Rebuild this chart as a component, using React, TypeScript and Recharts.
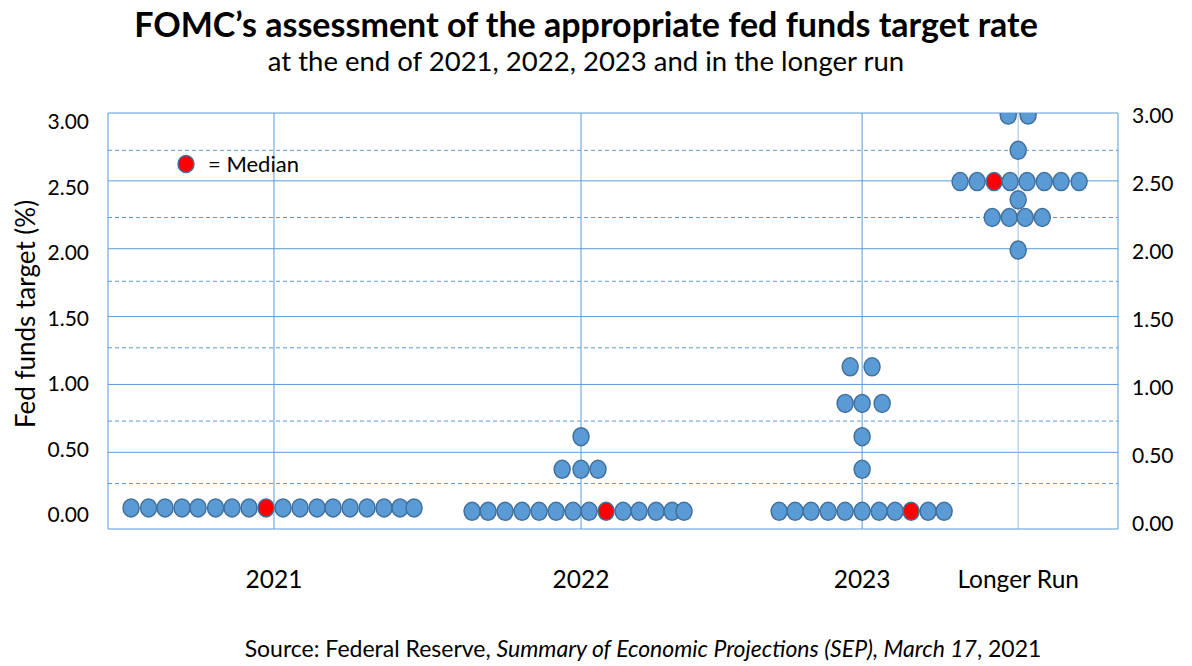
import { ScatterChart, Scatter, XAxis, YAxis, ReferenceLine } from 'recharts';

const categories = ['2021', '2022', '2023', 'Longer Run'];
const categoryCenters = [9.86, 28.1, 44.8, 54.07];

// rate levels drawn on the chart
const gridLevels = [0.5, 1, 1.5, 2, 2.5, 3];
const dashedLevels = [0.27, 0.73, 1.27, 1.76, 2.23, 2.725];
const tickLevels = [0, 0.5, 1, 1.5, 2, 2.5, 3];

// dots: each row is one rate, "at" = horizontal slot of each participant
const dots2021 = [
  { rate: 0.09, at: [1.37, 2.41, 3.39, 4.4, 5.35, 6.39, 7.37, 8.38, 10.4, 11.41, 12.42, 13.37, 14.38, 15.39, 16.4, 17.35, 18.18] },
];
const dots2022 = [
  { rate: 0.065, at: [21.63, 22.58, 23.59, 24.6, 25.61, 26.62, 27.63, 28.58, 30.6, 31.55, 32.56, 33.51, 34.22] },
  { rate: 0.375, at: [26.98, 28.1, 29.11] },
  { rate: 0.615, at: [28.1] },
];
const dots2023 = [
  { rate: 0.065, at: [39.87, 40.82, 41.77, 42.78, 43.79, 44.8, 45.81, 46.76, 48.72, 49.67] },
  { rate: 0.375, at: [44.8] },
  { rate: 0.615, at: [44.8] },
  { rate: 0.86, at: [43.79, 44.8, 45.99] },
  { rate: 1.13, at: [44.09, 45.39] },
];
const dotsLonger = [
  { rate: 2.985, at: [53.48, 54.66] },
  { rate: 2.725, at: [54.07] },
  { rate: 2.495, at: [50.62, 51.63, 53.59, 54.6, 55.62, 56.62, 57.69] },
  { rate: 2.36, at: [54.07] },
  { rate: 2.23, at: [52.53, 53.54, 54.49, 55.5] },
  { rate: 1.99, at: [54.07] },
];
const medians = [
  { rate: 0.09, at: 9.39 },
  { rate: 0.065, at: 29.59 },
  { rate: 0.065, at: 47.71 },
  { rate: 2.495, at: 52.64 },
];

const BLUE = '#5B9BD5';
const EDGE = '#41719C';
const FONT = 'Lato, "Open Sans", sans-serif';

function toPoints(rows: { rate: number; at: number[] }[]) {
  return rows.flatMap(r => r.at.map(x => ({ x, y: r.rate })));
}

const blueDots = [...toPoints(dots2021), ...toPoints(dots2022), ...toPoints(dots2023), ...toPoints(dotsLonger)];
const medianDots = medians.map(m => ({ x: m.at, y: m.rate }));

function Dot(fill: string) {
  return (p: any) => (
    <ellipse cx={p.cx} cy={p.cy} rx={8} ry={9} fill={fill} stroke={EDGE} strokeWidth={1.5} />
  );
}

function MedianKey() {
  return (
    <div style={{ position: 'absolute', left: 176, top: 153, display: 'flex', alignItems: 'center', fontSize: 22, lineHeight: '22px' }}>
      <svg width={20} height={20}>
        <ellipse cx={10} cy={10} rx={8} ry={8.5} fill="#FF0000" stroke={EDGE} strokeWidth={1.5} />
      </svg>
      <span style={{ marginLeft: 12 }}>= Median</span>
    </div>
  );
}

export default function App() {
  return (
    <div style={{ position: 'absolute', left: 0, top: 0, width: 1192, height: 666, background: '#fff', fontFamily: FONT, color: '#000' }}>
      <div style={{ position: 'absolute', left: 0, top: 6, width: 1172, textAlign: 'center', fontSize: 34, fontWeight: 700, lineHeight: '36px' }}>
        FOMC’s assessment of the appropriate fed funds target rate
      </div>
      <div style={{ position: 'absolute', left: 0, top: 45, width: 1172, textAlign: 'center', fontSize: 27.5, lineHeight: '32px' }}>
        at the end of 2021, 2022, 2023 and in the longer run
      </div>
      <div style={{ position: 'absolute', left: 25, top: 314, transform: 'translate(-50%, -50%) rotate(-90deg)', whiteSpace: 'nowrap', fontSize: 26 }}>
        Fed funds target (%)
      </div>

      <ScatterChart width={1192} height={666} margin={{ top: 113, right: 4, bottom: 77, left: 48 }}>
        <XAxis type="number" dataKey="x" domain={[0, 60]} ticks={categoryCenters} interval={0}
          tickFormatter={(v) => categories[categoryCenters.indexOf(v)] ?? ''}
          tickLine={false} tickSize={0} tickMargin={42} height={60}
          axisLine={{ stroke: BLUE }} tick={{ fill: '#000', fontSize: 24.5, fontFamily: FONT }} />
        <YAxis yAxisId="main" type="number" dataKey="y" domain={[-0.065, 3]} hide allowDataOverflow />
        <YAxis yAxisId="left" orientation="left" type="number" domain={[-0.107, 3.069]} ticks={tickLevels}
          allowDataOverflow width={60} tickLine={false} tickSize={0} tickMargin={19}
          tickFormatter={(v) => v.toFixed(2)} axisLine={{ stroke: BLUE }}
          tick={{ fill: '#000', fontSize: 21, fontFamily: FONT }} />
        <YAxis yAxisId="right" orientation="right" type="number" domain={[-0.037, 3.022]} ticks={tickLevels}
          allowDataOverflow width={70} tickLine={false} tickSize={0} tickMargin={14}
          tickFormatter={(v) => v.toFixed(2)} axisLine={{ stroke: BLUE }}
          tick={{ fill: '#000', fontSize: 21, fontFamily: FONT }} />

        {gridLevels.map(v => (
          <ReferenceLine key={'g' + v} yAxisId="main" y={v} stroke={BLUE} strokeWidth={1} />
        ))}
        {dashedLevels.map(v => (
          <ReferenceLine key={'d' + v} yAxisId="main" y={v} stroke={BLUE} strokeWidth={1} strokeDasharray="4 3" />
        ))}
        {categoryCenters.map((c, i) => (
          <ReferenceLine key={'c' + c} yAxisId="main" x={c} stroke={i === 3 ? '#9DC3E6' : BLUE} strokeWidth={1} />
        ))}

        <Scatter name="Participants" yAxisId="main" data={blueDots} shape={Dot(BLUE)} isAnimationActive={false} />
        <Scatter name="Median" yAxisId="main" data={medianDots} shape={Dot('#FF0000')} isAnimationActive={false} />
      </ScatterChart>

      <MedianKey />

      <div style={{ position: 'absolute', left: 0, top: 634, width: 1286, textAlign: 'center', fontSize: 23, lineHeight: '28px' }}>
        Source: Federal Reserve, <i>Summary of Economic Projections (SEP), March 17</i>, 2021
      </div>
    </div>
  );
}
